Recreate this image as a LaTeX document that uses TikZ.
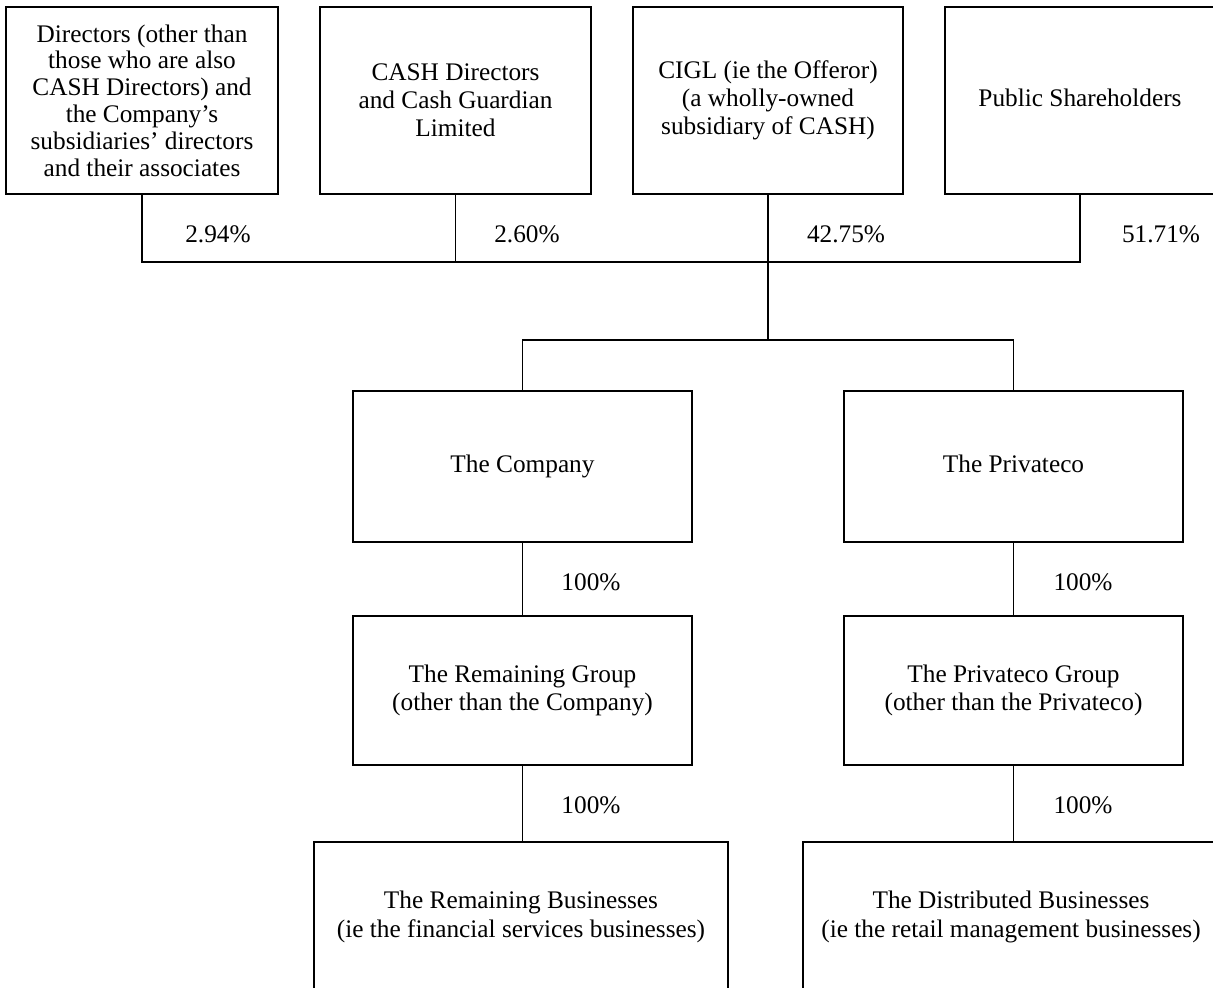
\documentclass[tikz,border=0pt]{standalone}
\usepackage{fontspec}
\setmainfont{Liberation Serif}
\begin{document}
\begin{tikzpicture}[x=0.5pt,y=-0.5pt,
  box/.style={draw, line width=0.6pt, align=center, inner sep=0pt,
    font=\fontsize{12.65}{14.1}\selectfont},
  lab/.style={inner sep=0pt, font=\fontsize{12.65}{14.1}\selectfont},
  conn/.style={line width=0.6pt}]
\useasboundingbox (0,0) rectangle (1213,988);
\clip (0,0) rectangle (1213,988);
% top row
\node[box, minimum width=136pt, minimum height=93.5pt,
  font=\fontsize{12.65}{13.4}\selectfont] (dir) at (142,100.5)
  {Directors (other than\\those who are also\\CASH Directors) and\\the Company's\\subsidiaries' directors\\and their associates};
\node[box, minimum width=135.5pt, minimum height=93.5pt] (cash) at (455.5,100.5)
  {CASH Directors\\and Cash Guardian\\Limited};
\node[box, minimum width=135pt, minimum height=93.5pt] (cigl) at (768,100.5)
  {CIGL (ie the Offeror)\\(a wholly-owned\\subsidiary of CASH)};
\node[box, minimum width=135pt, minimum height=93.5pt] (pub) at (1080,100.5)
  {Public Shareholders\vphantom{Cy}};
% middle
\node[box, minimum width=169.5pt, minimum height=75.5pt] (comp) at (522.5,466.5) {The Company\vphantom{Cy}};
\node[box, minimum width=169.5pt, minimum height=75.5pt] (priv) at (1013.5,466.5) {The Privateco\vphantom{Cy}};
\node[box, minimum width=169.5pt, minimum height=74.5pt] (remg) at (522.5,690.5)
  {The Remaining Group\\(other than the Company)};
\node[box, minimum width=169.5pt, minimum height=74.5pt] (privg) at (1013.5,690.5)
  {The Privateco Group\\(other than the Privateco)};
% bottom
\node[box, minimum width=207pt, minimum height=75pt] (remb) at (521,917)
  {The Remaining Businesses\\(ie the financial services businesses)};
\node[box, minimum width=208pt, minimum height=75pt] (disb) at (1011,917)
  {The Distributed Businesses\\(ie the retail management businesses)};
% connectors
\coordinate (topbar) at (0,262);
\coordinate (midbar) at (0,340);
\draw[conn] (dir.south) -- (dir.south |- topbar) -- (pub.south |- topbar) -- (pub.south);
\draw[conn] (cash.south) -- (cash.south |- topbar);
\draw[conn] (cigl.south) -- (cigl.south |- midbar);
\draw[conn] (comp.north) -- (comp.north |- midbar) -- (priv.north |- midbar) -- (priv.north);
\draw[conn] (comp.south) -- (remg.north);
\draw[conn] (priv.south) -- (privg.north);
\draw[conn] (remg.south) -- (remb.north -| remg.south);
\draw[conn] (privg.south) -- (disb.north -| privg.south);
% labels
\node[lab] (p1) at (218,234) {2.94\%};
\node[lab] (p2) at (527,234) {2.60\%};
\node[lab] (p3) at (846,234) {42.75\%};
\node[lab] (p4) at (1161,234) {51.71\%};
\node[lab] (h1) at (591,582) {100\%};
\node[lab] (h2) at (1083,582) {100\%};
\node[lab] (h3) at (591,805) {100\%};
\node[lab] (h4) at (1083,805) {100\%};
\end{tikzpicture}
\end{document}
